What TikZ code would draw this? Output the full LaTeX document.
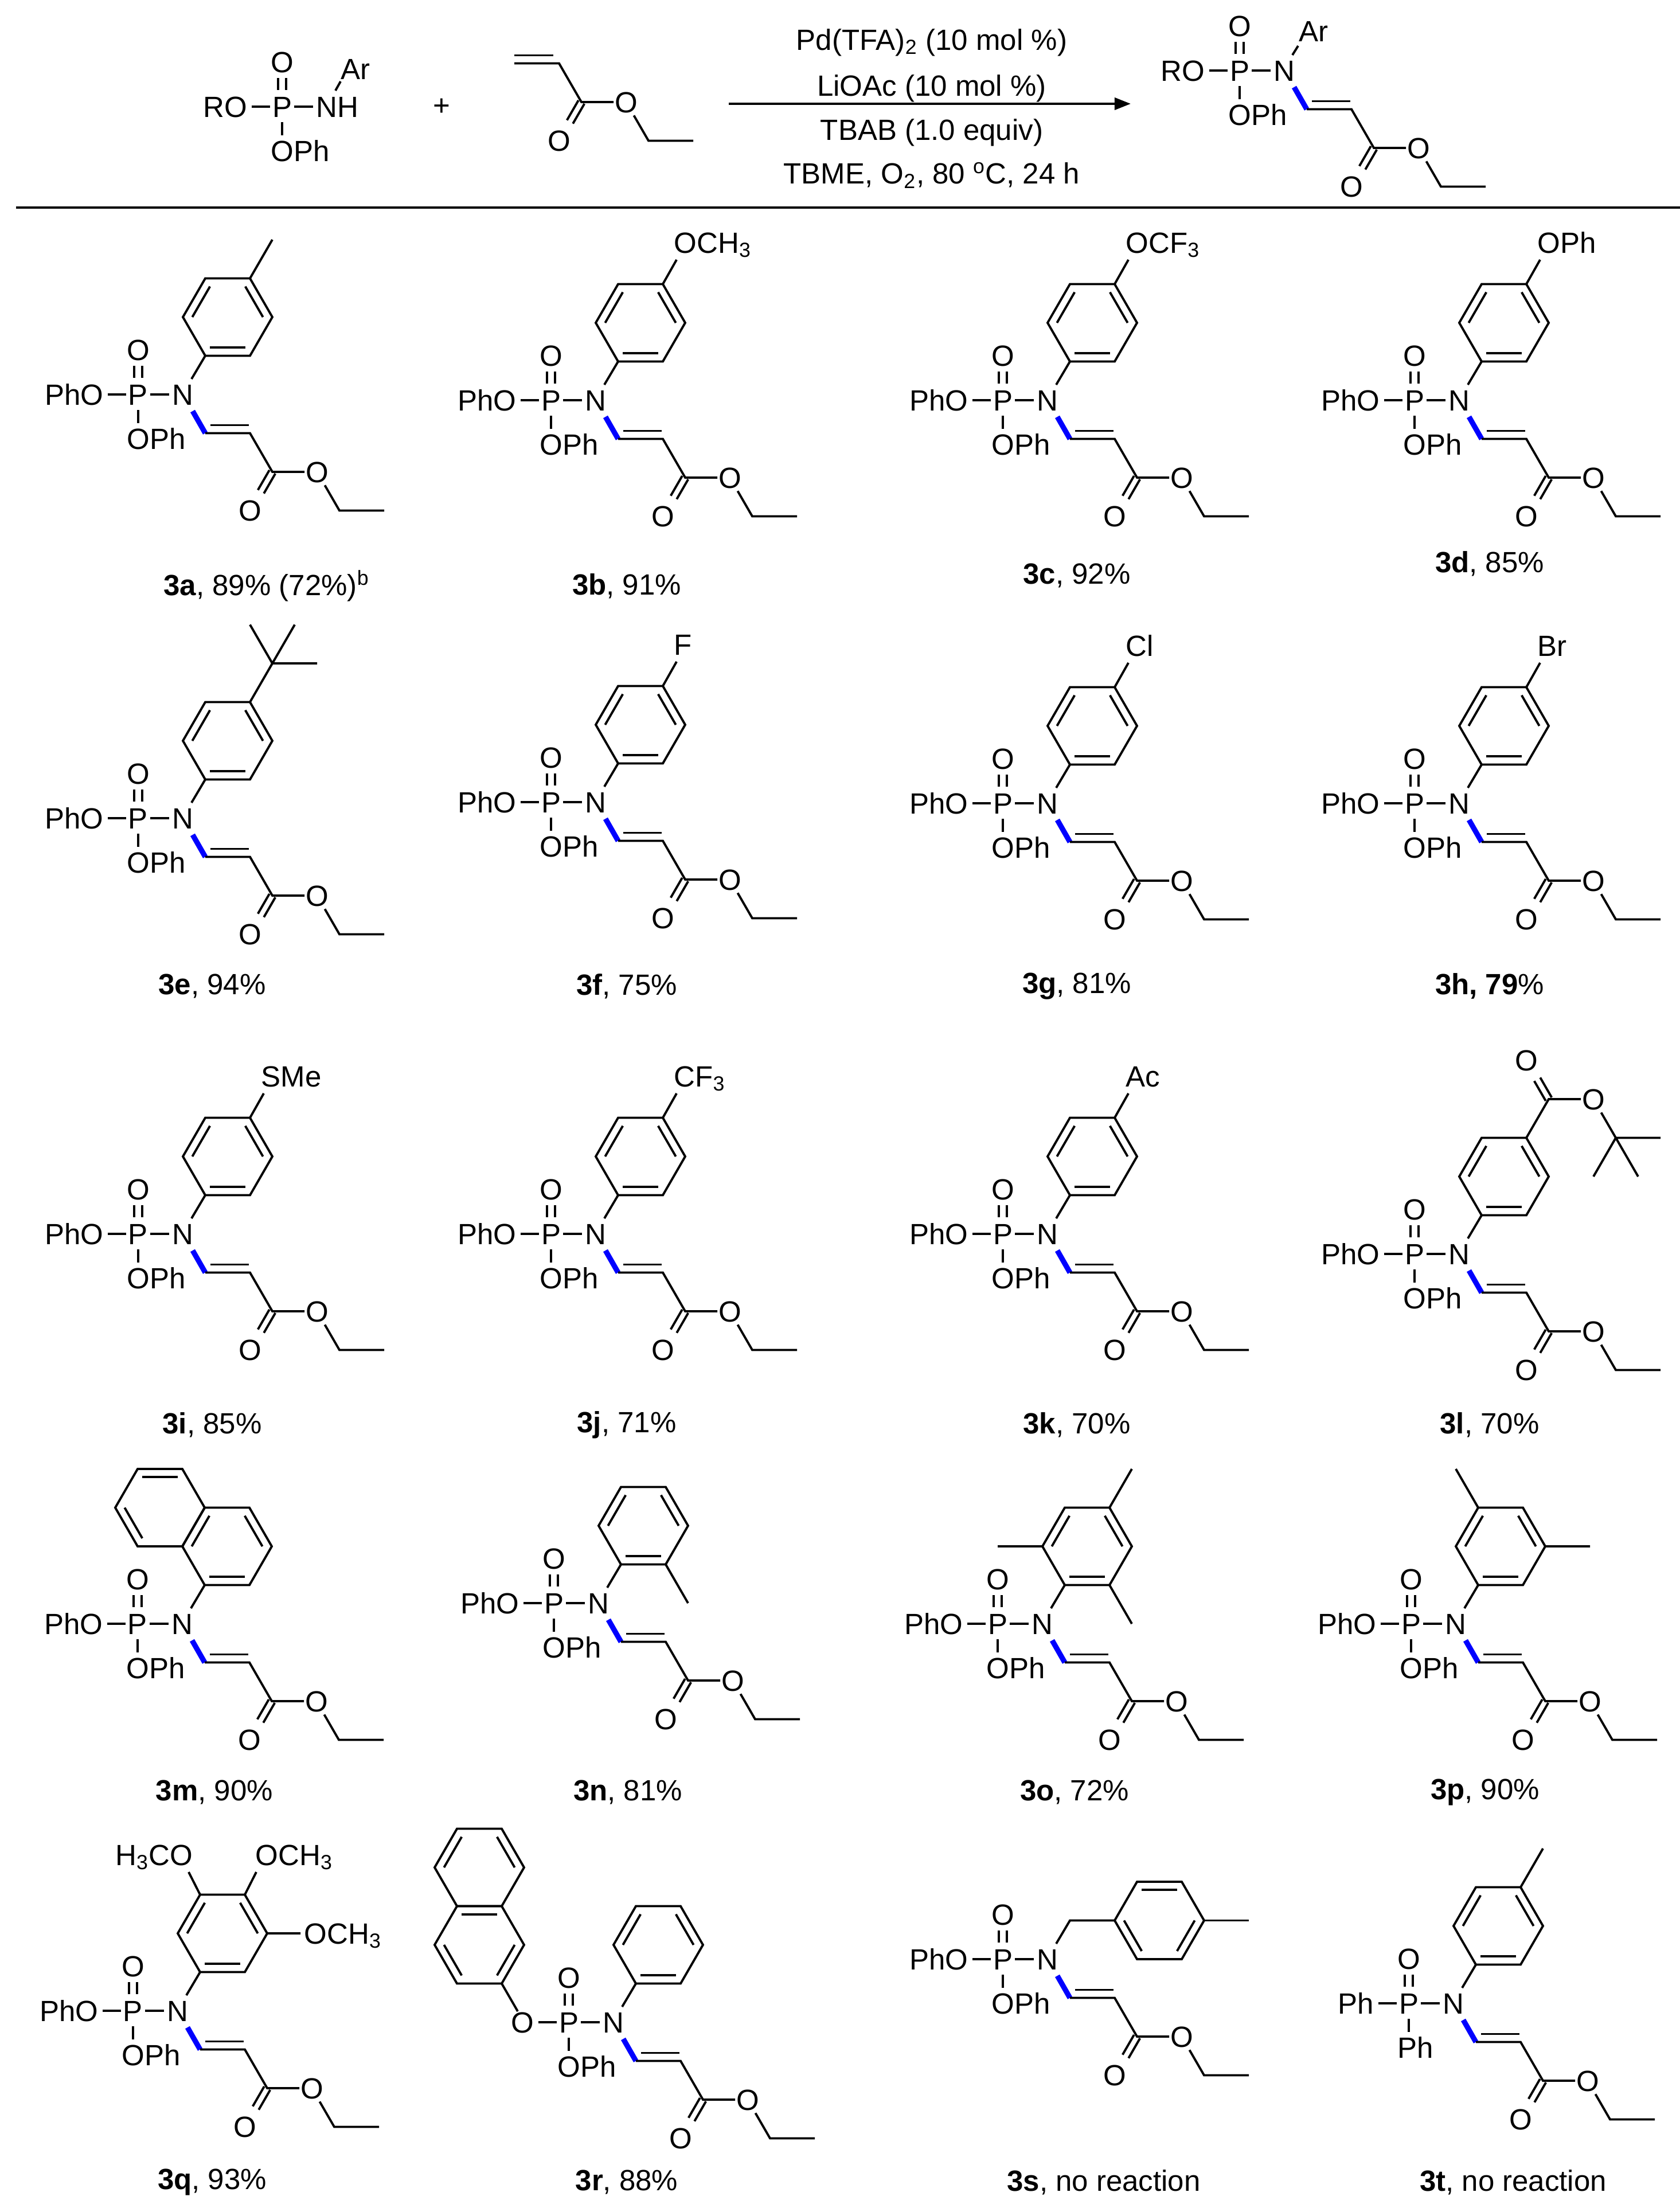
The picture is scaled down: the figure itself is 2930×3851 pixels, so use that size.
\documentclass[tikz,border=0pt]{standalone}
\usepackage{fontspec}
\setmainfont{Liberation Sans}
\usetikzlibrary{calc,arrows.meta}
\newcommand\fs{\fontsize{14.5}{17}\selectfont}
\tikzset{
 bond/.style={line width=1.1pt,line cap=butt},
 bbond/.style={line width=2.6pt,blue,line cap=butt},
 txt/.style={inner sep=0pt,font=\fs,text height=10.4pt,text depth=0pt},
 lbl/.style={inner sep=0pt,font=\fs}
}
\newcommand\hexat[2]{%
 \begin{scope}[shift={(#2)}]
 \coordinate (#1c) at (0,0);
 \coordinate (#1R) at (78,0);
 \coordinate (#1BR) at (39,67.5);
 \coordinate (#1BL) at (-39,67.5);
 \coordinate (#1L) at (-78,0);
 \coordinate (#1TL) at (-39,-67.5);
 \coordinate (#1TR) at (39,-67.5);
 \draw[bond,line join=miter] (#1BL)--(#1BR)--(#1R)--(#1TR)--(#1TL)--(#1L)--cycle;
 \end{scope}}
\newcommand\ib[3]{\draw[bond] ($(#1c)!0.79!(#1#2)$) -- ($(#1c)!0.79!(#1#3)$);}
% phosphoryl core around N at (0,0)
\newcommand\coreP[2]{%
 \node[txt,anchor=east] at (-138,0) {#1};
 \draw[bond] (-131,0) -- (-99,0);
 \node[txt] at (-78,0) {P};
 \draw[bond] (-57,0) -- (-24,0);
 \node[txt] at (-78,-78) {O};
 \draw[bond] (-85,-50) -- (-85,-29) (-71,-50) -- (-71,-29);
 \draw[bond] (-78,27) -- (-78,50);
 \node[txt,anchor=west] at (-98,77) {#2};}
\newcommand\chainP{%
 \draw[bbond] (17,29) -- (39,67.5);
 \draw[bond,line join=miter] (39,67.5) -- (117,67.5) -- (156,135) -- (212,135);
 \draw[bond] (48,53.5) -- (115,53.5);
 \draw[bond] (161.2,138) -- (141.2,172.6) (150.8,132) -- (130.8,166.6);
 \node[txt] at (117,202.5) {O};
 \node[txt] at (234,135) {O};
 \draw[bond,line join=miter] (247.5,158.4) -- (273,202.5) -- (351,202.5);}
\newcommand\phen{%
 \draw[bond] (15,-27) -- (39,-67.5);
 \hexat{r}{78,-135}
 \ib{r}{BL}{BR}\ib{r}{R}{TR}\ib{r}{TL}{L}}
\newcommand\parasub[1]{%
 \draw[bond] (117,-202.5) -- (141,-245);
 \node[txt,anchor=west] at (136,-275) {#1};}
\newcommand\std[3]{% #1 position, #2 name, #3 body
 \begin{scope}[shift={(#1)}]
 \node[txt] (#2) at (0,0) {N};
 \coreP{PhO}{OPh}\chainP\phen #3
 \end{scope}}
\begin{document}
\begin{tikzpicture}[x=0.01cm,y=-0.01cm]
\useasboundingbox (0,0) rectangle (2930,3851);
\fill[white] (0,0) rectangle (2930,3851);
% ---------- header ----------
\begin{scope}[shift={(570,186)}]
 \node[txt,anchor=west] (nh) at (-19,0) {NH};
 \coreP{RO}{OPh}
 \draw[bond] (15,-28) -- (24,-44);
 \node[txt] at (50,-66) {Ar};
\end{scope}
\node[txt] (plus) at (770,183) {+};
\draw[bond,line join=miter] (897,110.5) -- (975,110.5) -- (1014,178) -- (1070,178);
\draw[bond] (897,96.5) -- (965,96.5);
\draw[bond] (1019.2,181) -- (999.2,215.6) (1008.8,175) -- (988.8,209.6);
\node[txt] at (975,245.5) {O};
\node[txt] at (1092,178) {O};
\draw[bond,line join=miter] (1105.5,201.4) -- (1131,245.5) -- (1209,245.5);
\coordinate (arS) at (1271,181);
\coordinate (arE) at (1972,181);
\draw[bond,-{Triangle[length=8pt,width=6pt]}] (arS) -- (arE);
\node[lbl] (c1) at (1625,74) {Pd(TFA)\textsubscript{2} (10 mol \%)};
\node[lbl] (c2) at (1625,154) {LiOAc (10 mol \%)};
\node[lbl] (c3) at (1625,231) {TBAB (1.0 equiv)};
\node[lbl] (c4) at (1625,306) {TBME, O\textsubscript{2}, 80 \textsuperscript{o}C, 24 h};
\begin{scope}[shift={(2240,123)}]
 \node[txt] (np) at (0,0) {N};
 \coreP{RO}{OPh}\chainP
 \draw[bond] (14,-27) -- (24,-43);
 \node[txt] at (51,-69) {Ar};
\end{scope}
\draw[line width=1.4pt] (28,362) -- (2930,362);
% ---------- row 1 ----------
\std{319,688}{n3a}{\draw[bond] (117,-202.5) -- (156,-270);}
\std{1039,698}{n3b}{\parasub{OCH\textsubscript{3}}}
\std{1827,698}{n3c}{\parasub{OCF\textsubscript{3}}}
\std{2545,698}{n3d}{\parasub{OPh}}
% ---------- row 2 ----------
\std{319,1427}{n3e}{\draw[bond] (117,-202.5) -- (156,-270) (156,-270) -- (117,-337.5) (156,-270) -- (195,-337.5) (156,-270) -- (234,-270);}
\std{1039,1399}{n3f}{\parasub{F}}
\std{1827,1401}{n3g}{\parasub{Cl}}
\std{2545,1401}{n3h}{\parasub{Br}}
% ---------- row 3 ----------
\std{319,2152}{n3i}{\parasub{SMe}}
\std{1039,2152}{n3j}{\parasub{CF\textsubscript{3}}}
\std{1827,2152}{n3k}{\parasub{Ac}}
\std{2545,2187}{n3l}{%
 \draw[bond] (117,-202.5) -- (156,-270) -- (212,-270);
 \draw[bond] (161.2,-273) -- (141.2,-307.6) (150.8,-267) -- (130.8,-301.6);
 \node[txt] at (117,-337.5) {O};
 \node[txt] at (234,-270) {O};
 \draw[bond] (247.5,-246.6) -- (273,-202.5);
 \draw[bond] (273,-202.5) -- (234,-135) (273,-202.5) -- (312,-135) (273,-202.5) -- (351,-202.5);}
% ---------- row 4 ----------
\std{318,2832}{n3m}{\hexat{s}{-39,-202.5}\ib{s}{TL}{TR}\ib{s}{L}{BL}}
\std{1044,2796}{n3n}{\draw[bond] (117,-67.5) -- (156,0);}
\std{1818,2832}{n3o}{\draw[bond] (0,-135) -- (-78,-135) (117,-67.5) -- (156,0) (117,-202.5) -- (156,-270);}
\std{2539,2832}{n3p}{\draw[bond] (39,-202.5) -- (0,-270) (156,-135) -- (234,-135);}
% ---------- row 5 ----------
\std{310,3507}{n3q}{%
 \draw[bond] (39,-202.5) -- (19,-242) (117,-202.5) -- (137,-242) (156,-135) -- (214,-135);
 \node[txt,anchor=east] at (27,-272) {H\textsubscript{3}CO};
 \node[txt,anchor=west] at (135,-272) {OCH\textsubscript{3}};
 \node[txt,anchor=west] at (220,-135) {OCH\textsubscript{3}};}
\begin{scope}[shift={(1070,3527)}]
 \node[txt] (n3r) at (0,0) {N};
 \coreP{O}{OPh}\chainP\phen
 \draw[bond] (-167,-19) -- (-195,-67.5);
 \hexat{a}{-234,-135}\hexat{b}{-234,-270}
 \ib{a}{TL}{TR}\ib{a}{R}{BR}\ib{a}{BL}{L}\ib{b}{R}{TR}\ib{b}{TL}{L}
\end{scope}
\begin{scope}[shift={(1827,3417)}]
 \node[txt] (n3s) at (0,0) {N};
 \coreP{PhO}{OPh}\chainP
 \draw[bond,line join=miter] (15,-27) -- (39,-67.5) -- (117,-67.5);
 \hexat{r}{195,-67.5}\ib{r}{TL}{TR}\ib{r}{R}{BR}\ib{r}{BL}{L}
 \draw[bond] (273,-67.5) -- (351,-67.5);
\end{scope}
\begin{scope}[shift={(2535,3494)}]
 \node[txt] (n3t) at (0,0) {N};
 \coreP{Ph}{Ph}\chainP\phen
 \draw[bond] (117,-202.5) -- (156,-270);
\end{scope}
% ---------- labels ----------
\node[lbl] (l3a) at (465,1022) {\textbf{3a}, 89\% (72\%)\textsuperscript{b}};
\node[lbl] (l3b) at (1093,1022) {\textbf{3b}, 91\%};
\node[lbl] (l3c) at (1878,1004) {\textbf{3c}, 92\%};
\node[lbl] (l3d) at (2598,983) {\textbf{3d}, 85\%};
\node[lbl] (l3e) at (370,1720) {\textbf{3e}, 94\%};
\node[lbl] (l3f) at (1093,1720) {\textbf{3f}, 75\%};
\node[lbl] (l3g) at (1878,1720) {\textbf{3g}, 81\%};
\node[lbl] (l3h) at (2598,1720) {\textbf{3h, 79}\%};
\node[lbl] (l3i) at (370,2485) {\textbf{3i}, 85\%};
\node[lbl] (l3j) at (1093,2485) {\textbf{3j}, 71\%};
\node[lbl] (l3k) at (1878,2485) {\textbf{3k}, 70\%};
\node[lbl] (l3l) at (2598,2485) {\textbf{3l}, 70\%};
\node[lbl] (l3m) at (374,3126) {\textbf{3m}, 90\%};
\node[lbl] (l3n) at (1095,3126) {\textbf{3n}, 81\%};
\node[lbl] (l3o) at (1874,3126) {\textbf{3o}, 72\%};
\node[lbl] (l3p) at (2590,3126) {\textbf{3p}, 90\%};
\node[lbl] (l3q) at (370,3806) {\textbf{3q}, 93\%};
\node[lbl] (l3r) at (1093,3806) {\textbf{3r}, 88\%};
\node[lbl] (l3s) at (1925,3806) {\textbf{3s}, no reaction};
\node[lbl] (l3t) at (2639,3806) {\textbf{3t}, no reaction};
\end{tikzpicture}
\end{document}
